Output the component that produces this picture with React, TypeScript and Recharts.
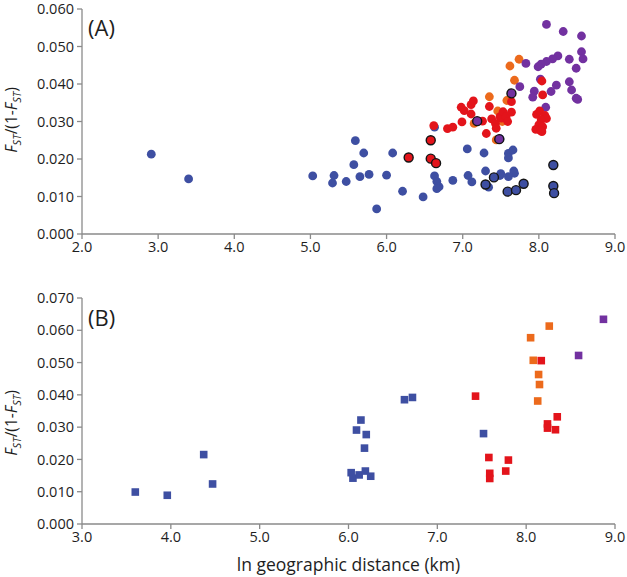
import React from 'react';
import { ScatterChart, Scatter, XAxis, YAxis } from 'recharts';

// ── data (ln km, FST/(1-FST)) ────────────────────────────────────────────────

const topBlue: [number, number][] = [
  [2.91, 0.0213], [3.40, 0.0147], [5.03, 0.0155], [5.31, 0.0156], [5.29, 0.0136],
  [5.47, 0.0140], [5.59, 0.0249], [5.70, 0.0216], [5.57, 0.0185], [5.65, 0.0153],
  [5.77, 0.0159], [5.87, 0.0067], [6.00, 0.0157], [6.08, 0.0216], [6.21, 0.0114],
  [6.48, 0.0099], [6.63, 0.0285], [6.63, 0.0155], [6.66, 0.0140], [6.69, 0.0126],
  [6.66, 0.0121], [6.87, 0.0143], [7.06, 0.0227], [7.07, 0.0156], [7.12, 0.0139],
  [7.28, 0.0216], [7.30, 0.0168], [7.34, 0.0125], [7.49, 0.0254], [7.50, 0.0161],
  [7.49, 0.0156], [7.60, 0.0215], [7.60, 0.0203], [7.66, 0.0224], [7.67, 0.0168],
  [7.68, 0.0162], [7.60, 0.0153],
];
const topBlueRing: [number, number][] = [
  [7.30, 0.0132], [7.41, 0.0151], [7.59, 0.0113], [7.70, 0.0117], [7.80, 0.0134],
  [8.19, 0.0184], [8.19, 0.0128], [8.20, 0.0109],
];
const topOrange: [number, number][] = [
  [7.74, 0.0466], [7.62, 0.0448], [7.68, 0.0410], [7.35, 0.0366], [7.58, 0.0356],
  [7.46, 0.0328], [7.52, 0.0300], [7.15, 0.0295], [7.44, 0.0251],
];
const topRed: [number, number][] = [
  [6.62, 0.0289], [6.80, 0.0281], [6.87, 0.0285], [6.98, 0.0338], [7.02, 0.0329],
  [6.99, 0.0299], [7.11, 0.0320], [7.11, 0.0345], [7.14, 0.0355], [7.26, 0.0301],
  [7.31, 0.0268], [7.35, 0.0340], [7.38, 0.0307], [7.43, 0.0295], [7.44, 0.0282],
  [7.49, 0.0313], [7.51, 0.0309], [7.53, 0.0326], [7.57, 0.0313], [7.59, 0.0300],
  [7.64, 0.0325], [7.64, 0.0353], [8.04, 0.0408], [8.05, 0.0371], [7.97, 0.0319],
  [8.01, 0.0328], [8.08, 0.0316], [8.10, 0.0308], [8.03, 0.0304], [8.00, 0.0291],
  [8.05, 0.0286], [7.96, 0.0279], [8.02, 0.0276], [8.04, 0.0273],
];
const topPurple: [number, number][] = [
  [8.10, 0.0559], [8.32, 0.0540], [8.56, 0.0528], [8.56, 0.0486], [8.58, 0.0467],
  [8.40, 0.0466], [8.49, 0.0442], [8.25, 0.0475], [8.18, 0.0467], [8.10, 0.0460],
  [8.03, 0.0453], [7.99, 0.0446], [7.83, 0.0455], [8.02, 0.0413], [8.23, 0.0397],
  [8.40, 0.0406], [8.43, 0.0384], [8.16, 0.0380], [7.94, 0.0381], [7.92, 0.0365],
  [7.75, 0.0393], [8.49, 0.0362], [8.51, 0.0359], [8.09, 0.0338],
];
const topRedRing: [number, number][] = [
  [6.29, 0.0204], [6.58, 0.0250], [6.58, 0.0201], [6.65, 0.0189],
];
const topPurpleRing: [number, number][] = [
  [7.19, 0.0301], [7.48, 0.0253], [7.64, 0.0375],
];

const botBlue: [number, number][] = [
  [3.60, 0.0099], [3.96, 0.0089], [4.37, 0.0215], [4.47, 0.0124], [6.03, 0.0159],
  [6.05, 0.0142], [6.12, 0.0152], [6.19, 0.0164], [6.25, 0.0148], [6.18, 0.0235],
  [6.20, 0.0277], [6.09, 0.0291], [6.14, 0.0322], [6.63, 0.0385], [6.72, 0.0392],
  [7.52, 0.0280],
];
const botRed: [number, number][] = [
  [7.43, 0.0396], [7.58, 0.0206], [7.59, 0.0157], [7.59, 0.0141], [7.80, 0.0198],
  [7.77, 0.0164], [8.17, 0.0506], [8.24, 0.0310], [8.24, 0.0297], [8.35, 0.0332],
  [8.33, 0.0292],
];
const botOrange: [number, number][] = [
  [8.26, 0.0613], [8.05, 0.0577], [8.08, 0.0507], [8.14, 0.0463], [8.15, 0.0432],
  [8.13, 0.0381],
];
const botPurple: [number, number][] = [[8.87, 0.0634], [8.59, 0.0522]];

const topXTicks = [2, 3, 4, 5, 6, 7, 8, 9];
const topYTicks = [0, 0.01, 0.02, 0.03, 0.04, 0.05, 0.06];
const botXTicks = [3, 4, 5, 6, 7, 8, 9];
const botYTicks = [0, 0.01, 0.02, 0.03, 0.04, 0.05, 0.06, 0.07];

const BLUE = '#3e4fa2';
const RED = '#e3141b';
const ORANGE = '#ec6a1c';
const PURPLE = '#7231a0';
const AXIS = '#8a8a8a';
const FONT = '"Open Sans", "Liberation Sans", sans-serif';

const toPts = (arr: [number, number][]) => arr.map(([x, y]) => ({ x, y }));

const dot = (fill: string, ring = false) => (p: any) => (
  <circle cx={p.cx} cy={p.cy} r={ring ? 4.5 : 4.4} fill={fill}
    stroke={ring ? '#141414' : 'none'} strokeWidth={ring ? 1.4 : 0} />
);

const square = (fill: string) => (p: any) => (
  <rect x={p.cx - 3.8} y={p.cy - 3.8} width={7.6} height={7.6} fill={fill} />
);

const tickStyle = { fill: '#1e1e1e', fontSize: 14.5, fontFamily: FONT };

const YTitle = ({ cy }: { cy: number }) => (
  <text transform={`translate(17,${cy}) rotate(-90)`} textAnchor="middle"
    fontSize={15.5} fontFamily={FONT} fill="#1e1e1e">
    <tspan fontStyle="italic">F</tspan>
    <tspan fontStyle="italic" fontSize={11} dy={4}>ST</tspan>
    <tspan dy={-4}>/(1-</tspan>
    <tspan fontStyle="italic">F</tspan>
    <tspan fontStyle="italic" fontSize={11} dy={4}>ST</tspan>
    <tspan dy={-4}>)</tspan>
  </text>
);

const Panel: React.FC<{ top: number; height: number; marginTop: number; xHeight: number;
  xTicks: number[]; yTicks: number[]; series: { data: [number, number][]; shape: any }[];
  xLabel?: string }> = ({ top, height, marginTop, xHeight, xTicks, yTicks, series, xLabel }) => (
  <div style={{ position: 'absolute', left: 0, top }}>
    <ScatterChart width={627} height={height} margin={{ top: marginTop, right: 12, bottom: 0, left: 0 }}>
      <XAxis type="number" dataKey="x" domain={[xTicks[0], xTicks[xTicks.length - 1]]} ticks={xTicks}
        tickFormatter={(v: number) => v.toFixed(1)} tick={tickStyle} height={xHeight}
        stroke={AXIS} strokeWidth={1.3} tickSize={5} tickMargin={3} allowDataOverflow
        label={xLabel ? { value: xLabel, position: 'insideBottom', offset: 6, fontSize: 17.5, fontFamily: FONT, fill: '#1e1e1e' } : undefined} />
      <YAxis type="number" dataKey="y" domain={[yTicks[0], yTicks[yTicks.length - 1]]} ticks={yTicks}
        tickFormatter={(v: number) => v.toFixed(3)} tick={tickStyle} width={82}
        stroke={AXIS} strokeWidth={1.3} tickSize={5} tickMargin={3} allowDataOverflow />
      {series.map((s, i) => (
        <Scatter key={i} data={toPts(s.data)} shape={s.shape} isAnimationActive={false} />
      ))}
    </ScatterChart>
  </div>
);

export default function App() {
  return (
    <div style={{ position: 'absolute', left: 0, top: 0, width: 627, height: 577, background: '#fff' }}>
      <Panel top={0} height={264} marginTop={9} xHeight={30} xTicks={topXTicks} yTicks={topYTicks}
        series={[
          { data: topBlue, shape: dot(BLUE) },
          { data: topOrange, shape: dot(ORANGE) },
          { data: topPurple, shape: dot(PURPLE) },
          { data: topRed, shape: dot(RED) },
          { data: topBlueRing, shape: dot(BLUE, true) },
          { data: topRedRing, shape: dot(RED, true) },
          { data: topPurpleRing, shape: dot(PURPLE, true) },
        ]} />
      <Panel top={264} height={313} marginTop={34} xHeight={53} xTicks={botXTicks} yTicks={botYTicks}
        xLabel="ln geographic distance (km)"
        series={[
          { data: botBlue, shape: square(BLUE) },
          { data: botOrange, shape: square(ORANGE) },
          { data: botRed, shape: square(RED) },
          { data: botPurple, shape: square(PURPLE) },
        ]} />
      <svg width={627} height={577} style={{ position: 'absolute', left: 0, top: 0, pointerEvents: 'none' }}>
        <YTitle cy={120} />
        <YTitle cy={423} />
        <text x={88} y={36} fontSize={22} fontFamily={FONT} fill="#1e1e1e">(A)</text>
        <text x={88} y={326} fontSize={22} fontFamily={FONT} fill="#1e1e1e">(B)</text>
      </svg>
    </div>
  );
}
